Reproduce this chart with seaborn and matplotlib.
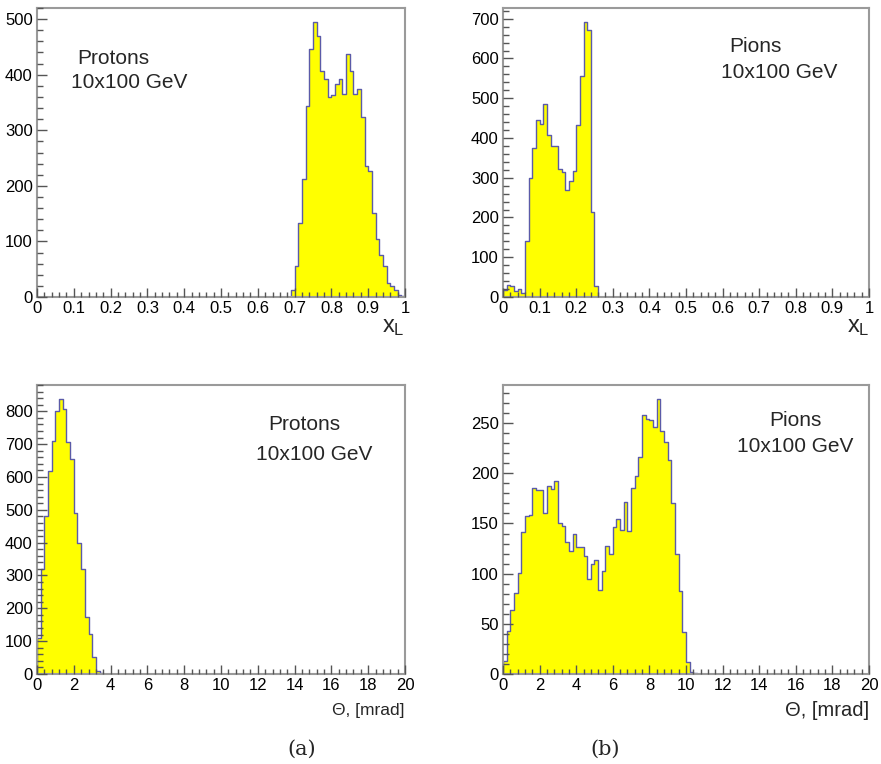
import numpy as np
import pandas as pd
import matplotlib
matplotlib.use("Agg")
import matplotlib.pyplot as plt
import seaborn as sns
from matplotlib.ticker import MultipleLocator, FuncFormatter

# ---------------- data (bin contents) ----------------
# x_L histograms: bin width 0.01
xl_bin_width = 0.01
protons_xl_start = 0.69
protons_xl_counts = [13, 55, 133, 212, 344, 446, 495, 470, 407, 392, 360, 363,
                     383, 392, 365, 437, 407, 365, 375, 324, 235, 226, 152, 104,
                     76, 55, 25, 19, 13, 3, 1]
pions_xl_start = 0.0
pions_xl_counts = [18, 31, 27, 15, 21, 11, 141, 299, 375, 446, 434, 486, 408,
                   381, 381, 323, 314, 270, 293, 318, 432, 555, 692, 672, 215, 28]

# Theta histograms: bin width 0.2 mrad
theta_bin_width = 0.2
protons_theta_start = 0.0
protons_theta_counts = [109, 319, 481, 619, 708, 800, 838, 807, 705, 656, 491,
                        400, 321, 175, 122, 51, 10, 2]
pions_theta_start = 0.0
pions_theta_counts = [13, 43, 64, 81, 101, 142, 157, 158, 185, 183,
                      183, 160, 187, 184, 192, 150, 147, 132, 123, 140,
                      127, 127, 118, 95, 110, 114, 84, 103, 128, 120,
                      146, 154, 144, 171, 143, 185, 197, 216, 258, 254,
                      253, 246, 274, 242, 231, 213, 170, 120, 83, 42,
                      12, 2, 1]

label_species = ["Protons", "Pions", "Protons", "Pions"]
label_energy = "10x100 GeV"
captions = ["(a)", "(b)"]

# ---------------- figure ----------------
sns.set_theme(style="ticks")
plt.rcParams['font.family'] = ['Liberation Sans', 'DejaVu Sans']
plt.rcParams['mathtext.fontset'] = 'custom'
plt.rcParams['mathtext.rm'] = 'Liberation Sans'
plt.rcParams['mathtext.it'] = 'Liberation Sans'

W, H = 881, 764
fig = plt.figure(figsize=(W / 100, H / 100), dpi=100)


def px_axes(x0, y0, x1, y1):
    return fig.add_axes([x0 / W, 1 - y1 / H, (x1 - x0) / W, (y1 - y0) / H])


def ftext(x, y, s, **kw):
    fig.text(x / W, 1 - y / H, s, **kw)


def draw(ax, start, width, counts, xmax, ymax, xmaj, xmin, ymaj, ymin):
    counts = np.asarray(counts, float)
    n = len(counts)
    edges = start + width * np.arange(n + 1)
    centers = edges[:-1] + width / 2
    df = pd.DataFrame({'x': centers, 'w': counts})
    sns.histplot(data=df, x='x', weights='w', bins=edges.tolist(), element='step',
                 fill=True, color='#ffff00', edgecolor='#5b5ba8',
                 linewidth=1.0, alpha=1, ax=ax)
    ax.set_xlim(0, xmax)
    ax.set_ylim(0, ymax)
    ax.set_xlabel('')
    ax.set_ylabel('')
    ax.xaxis.set_major_locator(MultipleLocator(xmaj))
    ax.xaxis.set_minor_locator(MultipleLocator(xmin))
    ax.yaxis.set_major_locator(MultipleLocator(ymaj))
    ax.yaxis.set_minor_locator(MultipleLocator(ymin))
    ax.xaxis.set_major_formatter(FuncFormatter(lambda v, p: f'{v:g}'))
    ax.yaxis.set_major_formatter(FuncFormatter(lambda v, p: f'{v:g}'))
    ax.set_axisbelow(False)
    ax.tick_params(which='both', direction='in', top=False, right=False,
                   bottom=True, left=True, color='#555555', labelcolor='black',
                   labelsize=12, width=1)
    ax.tick_params(axis='x', which='major', length=6.5, pad=3)
    ax.tick_params(axis='x', which='minor', length=3.3)
    ax.tick_params(axis='y', which='major', length=7.5, pad=3)
    ax.tick_params(axis='y', which='minor', length=4)
    for s in ax.spines.values():
        s.set_color('#9a9a9a')
        s.set_linewidth(1.5)
        s.set_visible(True)


ax1 = px_axes(37, 8, 405, 297)
draw(ax1, protons_xl_start, xl_bin_width, protons_xl_counts, 1.0, 520, 0.1, 0.02, 100, 20)
ax2 = px_axes(503, 8, 869, 297)
draw(ax2, pions_xl_start, xl_bin_width, pions_xl_counts, 1.0, 727, 0.1, 0.02, 100, 20)
ax3 = px_axes(37, 385, 405, 674)
draw(ax3, protons_theta_start, theta_bin_width, protons_theta_counts, 20, 880, 2, 0.4, 100, 20)
ax4 = px_axes(503, 385, 869, 674)
draw(ax4, pions_theta_start, theta_bin_width, pions_theta_counts, 20, 288, 2, 0.4, 50, 10)

# axis titles
ftext(404, 316, r'$x_L$', size=17, ha='right', va='top')
ftext(869, 316, r'$x_L$', size=17, ha='right', va='top')
ftext(405, 710, 'Θ, [mrad]', size=12.5, ha='right', va='center')
ftext(869, 711, 'Θ, [mrad]', size=14.5, ha='right', va='center')

# in-plot labels
ftext(77, 58, label_species[0], size=15, ha='left', va='center')
ftext(71, 82, label_energy, size=15, ha='left', va='center')
ftext(729, 47, label_species[1], size=15, ha='left', va='center')
ftext(721, 72, label_energy, size=15, ha='left', va='center')
ftext(268, 424, label_species[2], size=15, ha='left', va='center')
ftext(256, 455, label_energy, size=15, ha='left', va='center')
ftext(769, 420, label_species[3], size=15, ha='left', va='center')
ftext(737, 447, label_energy, size=15, ha='left', va='center')

# captions
ftext(302, 749, captions[0], size=15, family='DejaVu Serif', ha='center', va='center')
ftext(605, 749, captions[1], size=15, family='DejaVu Serif', ha='center', va='center')

fig.savefig('out.png', dpi=100)
